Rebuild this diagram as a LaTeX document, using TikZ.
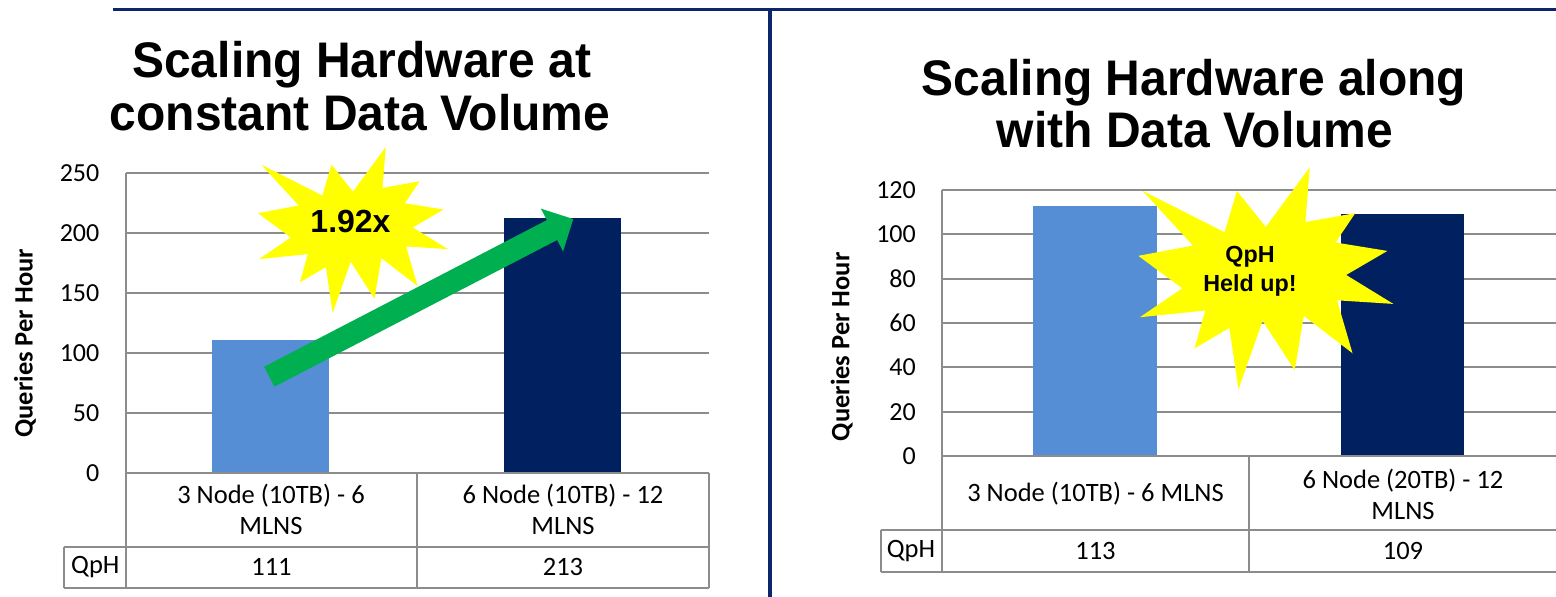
\documentclass[tikz,border=0pt]{standalone}
\usepackage{fontspec}
\usepackage{graphicx}
\setmainfont{Carlito}
\newfontfamily\headfont{Liberation Sans}
\usetikzlibrary{arrows.meta}

\definecolor{navyline}{RGB}{12,38,110}
\definecolor{barlight}{RGB}{85,142,213}
\definecolor{bardark}{RGB}{0,32,96}
\definecolor{gridgray}{RGB}{140,140,140}
\definecolor{arrowgreen}{RGB}{0,176,80}
\definecolor{burstyellow}{RGB}{255,255,0}

\tikzset{
  starburst/.pic={
    \fill[burstyellow] (108,58) -- (145.22,0) -- (141.55,53.25) -- (183.80,44.57)
      -- (167.02,73.15) -- (210.97,81.37) -- (176.07,104.75) -- (216,132.90)
      -- (168.37,129.42) -- (181.45,180.95) -- (140.20,144.57) -- (132.47,197.37)
      -- (105.32,149.35) -- (84.85,216) -- (77.15,156.27) -- (47.62,176.17)
      -- (56.67,139.37) -- (1.35,145.87) -- (37.22,117.75) -- (0,86.15)
      -- (46.27,76.17) -- (3.70,22.95) -- (73.12,63.20) -- (83.52,22.95) -- cycle;
  }
}

\begin{document}
\begin{tikzpicture}[x=1pt,y=-1pt,
  grid/.style={draw=gridgray, line width=2},
  tick/.style={anchor=east, inner sep=0, font=\fontsize{26}{31}\selectfont},
  cell/.style={align=center, inner sep=0, font=\fontsize{26.5}{31}\selectfont},
  ylab/.style={rotate=90, inner sep=0, font=\bfseries\fontsize{26.5}{31}\selectfont},
  title/.style={anchor=base, inner sep=0, font=\headfont\bfseries\fontsize{50}{56}\selectfont},
  bursttext/.style={align=center, inner sep=0},
]
\useasboundingbox (0,0) rectangle (1556,597);
\fill[white] (0,0) rectangle (1556,597);

% frame lines
\draw[navyline, line width=3] (113,9) -- (1556,9);
\draw[navyline, line width=3.3] (770,9) -- (770,597);

% titles
\node[title] (tla) at (361.7,77.5) {\scalebox{0.96}[1]{Scaling Hardware at}};
\node[title] (tlb) at (360,130) {\scalebox{0.96}[1]{constant Data Volume}};
\node[title] (tra) at (1194,95) {\scalebox{0.96}[1]{Scaling Hardware along}};
\node[title] (trb) at (1195,147.5) {\scalebox{0.96}[1]{with Data Volume}};

% ---------- left chart ----------
\foreach \v in {0,50,...,250} {
  \pgfmathsetmacro\yy{472.7-\v*1.1976}
  \draw[grid] (126,\yy) -- (709,\yy);
  \node[tick] (lt\v) at (99.5,\yy) {\v};
}
\fill[barlight] (212,472.7) rectangle (329,339.8);
\fill[bardark] (504,472.7) rectangle (620.7,217.6);
\draw[grid] (126,173.3) -- (126,587.7);
\draw[grid] (126,472.7) -- (709,472.7);
\draw[grid] (64.3,546.7) -- (709,546.7);
\draw[grid] (64.3,587.7) -- (709,587.7);
\draw[grid] (64.3,546.7) -- (64.3,587.7);
\draw[grid] (416.7,472.7) -- (416.7,587.7);
\draw[grid] (709,472.7) -- (709,587.7);
\node[cell] (lc1) at (271,509.8) {3 Node (10TB) - 6\\MLNS};
\node[cell] (lc2) at (563,509.8) {6 Node (10TB) - 12\\MLNS};
\node[cell] (lq) at (95.3,567.2) {QpH};
\node[cell] (lv1) at (271.5,567.2) {111};
\node[cell] (lv2) at (563,567.2) {213};
\node[ylab] (lyl) at (25,343.3) {Queries Per Hour};

% ---------- right chart ----------
\foreach \v in {0,20,...,120} {
  \pgfmathsetmacro\yy{456-\v*2.2167}
  \draw[grid] (941.7,\yy) -- (1556,\yy);
  \node[tick] (rt\v) at (916,\yy) {\v};
}
\fill[barlight] (1032.7,456) rectangle (1157,205.5);
\fill[bardark] (1341,456) rectangle (1464,214.4);
\draw[grid] (941.7,190) -- (941.7,572.3);
\draw[grid] (941.7,456) -- (1556,456);
\draw[grid] (880.7,530) -- (1556,530);
\draw[grid] (880.7,572.3) -- (1556,572.3);
\draw[grid] (880.7,530) -- (880.7,572.3);
\draw[grid] (1249.3,456) -- (1249.3,572.3);
\node[cell] (rc1) at (1095.5,493.3) {3 Node (10TB) - 6 MLNS};
\node[cell] (rc2) at (1403,494) {6 Node (20TB) - 12\\MLNS};
\node[cell] (rq) at (911,551) {QpH};
\node[cell] (rv1) at (1095.5,551) {113};
\node[cell] (rv2) at (1403,551) {109};
\node[ylab] (ryl) at (841.7,346.7) {Queries Per Hour};

% ---------- call-outs ----------
\path (258,147) pic[xscale=0.8796, yscale=0.7685] {starburst};
\node[bursttext, font=\headfont\bfseries\fontsize{32}{38}\selectfont] (gain) at (350.5,221.5) {1.92x};
\path (1138.3,167.3) pic[xscale=1.1806, yscale=1.0278] {starburst};
\node[bursttext, font=\headfont\bfseries\fontsize{23.3}{29}\selectfont] (held) at (1250,271.5) {QpH\\Held up!};

\coordinate (atail) at (269.3,376.7);
\coordinate (ahead) at (573.3,219);
\draw[arrowgreen, line width=22.4, -{Triangle[length=24pt, width=46.8pt]}] (atail) -- (ahead);
\end{tikzpicture}
\end{document}
